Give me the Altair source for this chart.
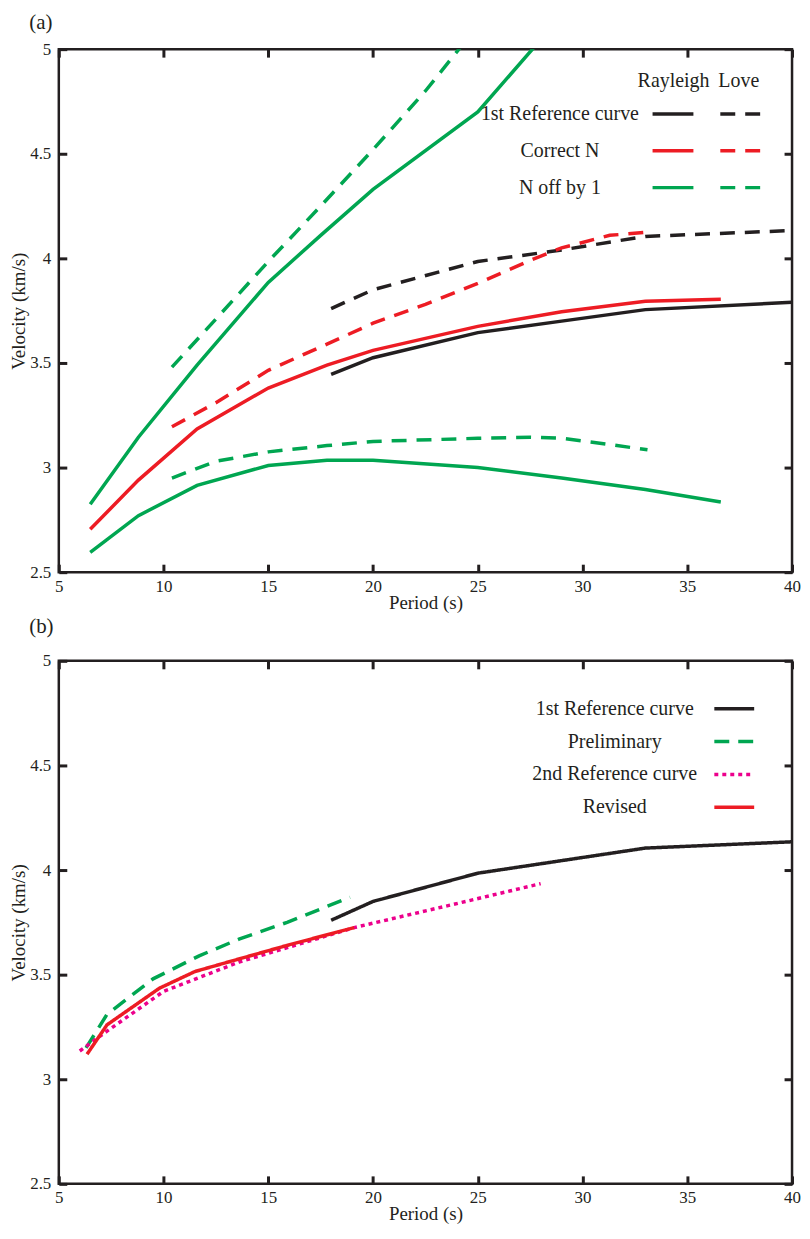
import altair as alt
import pandas as pd

FONT = "Liberation Serif"
INK = "#231f20"
RED = "#ed1c24"
GREEN = "#00a651"
MAGENTA = "#ec008c"

# ---------------- Panel (a) data ----------------
a_series = ["1st Reference curve", "Correct N", "N off by 1"]
a_colors = [INK, RED, GREEN]

ref_rayleigh_T = [18.0, 20.0, 25.0, 29.0, 33.0, 40.0]
ref_rayleigh_V = [3.445, 3.525, 3.645, 3.70, 3.755, 3.79]
ref_love_T = [18.0, 20.0, 25.0, 29.0, 33.0, 40.0]
ref_love_V = [3.76, 3.85, 3.985, 4.04, 4.105, 4.133]

correct_rayleigh_T = [6.5, 8.8, 11.6, 15.0, 17.8, 20.0, 25.0, 29.0, 33.0, 36.6]
correct_rayleigh_V = [2.705, 2.94, 3.185, 3.38, 3.49, 3.56, 3.675, 3.745, 3.795, 3.805]
correct_love_T = [10.4, 12.5, 15.0, 17.8, 20.0, 22.5, 25.0, 27.5, 29.0, 31.3, 33.1]
correct_love_V = [3.195, 3.31, 3.465, 3.59, 3.69, 3.78, 3.88, 3.99, 4.05, 4.11, 4.125]

off_rayleigh_upper_T = [6.5, 8.8, 11.6, 15.0, 17.5, 20.0, 25.0, 29.0]
off_rayleigh_upper_V = [2.825, 3.145, 3.49, 3.885, 4.11, 4.33, 4.70, 5.16]
off_love_upper_T = [10.4, 12.5, 15.0, 17.5, 20.0, 22.5, 24.1, 25.0]
off_love_upper_V = [3.48, 3.71, 3.985, 4.25, 4.52, 4.80, 5.0, 5.10]

off_rayleigh_lower_T = [6.5, 8.8, 11.6, 15.0, 17.8, 20.0, 25.0, 29.0, 33.0, 36.6]
off_rayleigh_lower_V = [2.595, 2.77, 2.915, 3.01, 3.035, 3.035, 3.0, 2.95, 2.895, 2.835]
off_love_lower_T = [10.4, 12.5, 15.0, 17.8, 20.0, 25.0, 27.5, 29.0, 31.3, 33.1]
off_love_lower_V = [2.95, 3.03, 3.075, 3.105, 3.125, 3.14, 3.145, 3.14, 3.11, 3.085]

# ---------------- Panel (b) data ----------------
b_series = ["1st Reference curve", "Preliminary", "2nd Reference curve", "Revised"]
b_colors = [INK, GREEN, MAGENTA, RED]
b_dashes = [[1, 0], [15, 9], [4, 4], [1, 0]]

ref1_T = [18.0, 20.0, 25.0, 29.0, 33.0, 40.0]
ref1_V = [3.76, 3.85, 3.985, 4.045, 4.105, 4.135]
prelim_T = [6.3, 7.3, 9.5, 11.7, 13.6, 15.9, 18.9]
prelim_V = [3.15, 3.31, 3.48, 3.59, 3.67, 3.75, 3.87]
ref2_T = [6.0, 7.3, 10.0, 13.6, 19.1, 23.8, 28.0]
ref2_V = [3.135, 3.23, 3.42, 3.56, 3.725, 3.835, 3.935]
revised_T = [6.35, 7.3, 9.8, 11.5, 13.6, 15.9, 19.1]
revised_V = [3.12, 3.26, 3.435, 3.515, 3.575, 3.64, 3.725]

x_ticks = [5, 10, 15, 20, 25, 30, 35, 40]
y_ticks = [2.5, 3, 3.5, 4, 4.5, 5]


def rows(series, prefix, branch, T, V):
    return [dict(series=series, key=prefix + series, branch=branch, T=t, V=v)
            for t, v in zip(T, V)]


df_a_rayleigh = pd.DataFrame(
    rows(a_series[0], "R ", "r0", ref_rayleigh_T, ref_rayleigh_V)
    + rows(a_series[1], "R ", "r1", correct_rayleigh_T, correct_rayleigh_V)
    + rows(a_series[2], "R ", "r2", off_rayleigh_upper_T, off_rayleigh_upper_V)
    + rows(a_series[2], "R ", "r3", off_rayleigh_lower_T, off_rayleigh_lower_V)
)
df_a_love = pd.DataFrame(
    rows(a_series[0], "L ", "l0", ref_love_T, ref_love_V)
    + rows(a_series[1], "L ", "l1", correct_love_T, correct_love_V)
    + rows(a_series[2], "L ", "l2", off_love_upper_T, off_love_upper_V)
    + rows(a_series[2], "L ", "l3", off_love_lower_T, off_love_lower_V)
)
df_b1 = pd.DataFrame(
    rows(b_series[0], "B ", "b0", ref1_T, ref1_V) + rows(b_series[1], "B ", "b1", prelim_T, prelim_V)
)
df_b2 = pd.DataFrame(
    rows(b_series[2], "B ", "b2", ref2_T, ref2_V) + rows(b_series[3], "B ", "b3", revised_T, revised_V)
)

TICK = 8
W, H = 736, 525
xscale = alt.Scale(domain=[5, 40], nice=False, zero=False)
yscale = alt.Scale(domain=[2.5, 5], nice=False, zero=False)

# inward ticks: negative tick length given as an expression
common_axis = dict(
    domain=False, grid=False, ticks=True, tickSize={"expr": str(-TICK)}, tickWidth=3,
    tickColor=INK, tickOpacity=1, labelColor=INK, titleColor=INK, labelFont=FONT,
    titleFont=FONT, labelFontSize=17, titleFontSize=19, titleFontWeight="normal",
    labelFlush=False, zindex=1, minExtent=0,
)
x_axis_main = alt.Axis(orient="bottom", title="Period (s)", values=x_ticks, format="d",
                       labelPadding=6 + TICK, titlePadding=-1, **common_axis)
y_axis_main = alt.Axis(orient="left", title="Velocity (km/s)", values=y_ticks, format="~g",
                       labelPadding=8 + TICK, titlePadding=1.5, **common_axis)
x_axis_top = alt.Axis(orient="top", title=None, values=x_ticks, labels=False, **common_axis)
y_axis_right = alt.Axis(orient="right", title=None, values=y_ticks, labels=False, **common_axis)

legend_common = dict(
    orient="none", clipHeight=20,
    labelFont=FONT, labelFontSize=20, labelColor=INK, labelLimit=400,
    titleFont=FONT, titleFontSize=20, titleFontWeight="normal", titleColor=INK,
)
sym_common = dict(symbolType="stroke", symbolStrokeWidth=3.5, labelExpr="''", labelOffset=0)
lab_common = dict(symbolOpacity=0, symbolSize=16, symbolStrokeWidth=0, labelAlign="center",
                  labelOffset=0)

# ---------------- Panel (a) chart ----------------
rayleigh = alt.Chart(df_a_rayleigh).mark_line(strokeWidth=3.5, clip=True).encode(
    x=alt.X("T:Q", scale=xscale, axis=x_axis_main),
    y=alt.Y("V:Q", scale=yscale, axis=y_axis_main),
    color=alt.Color("key:N", scale=alt.Scale(domain=["R " + s for s in a_series], range=a_colors),
                    legend=alt.Legend(title="Rayleigh", legendX=581, legendY=22,
                                      symbolSize=1681, symbolOffset=13, rowPadding=17,
                                      titlePadding=13, **sym_common, **legend_common)),
    opacity=alt.Opacity("series:N", scale=alt.Scale(domain=a_series, range=[1, 1, 1]),
                        legend=alt.Legend(title="\u00a0", legendX=483, legendY=22,
                                          rowPadding=17, titlePadding=13,
                                          **lab_common, **legend_common)),
    detail="branch:N",
)
love = alt.Chart(df_a_love).mark_line(strokeWidth=3.5, clip=True, strokeDash=[15, 10]).encode(
    x=alt.X("T:Q", scale=xscale, axis=x_axis_top),
    y=alt.Y("V:Q", scale=yscale, axis=y_axis_right),
    stroke=alt.Stroke("key:N", scale=alt.Scale(domain=["L " + s for s in a_series], range=a_colors),
                      legend=alt.Legend(title="Love", legendX=662, legendY=22,
                                        symbolSize=1681, rowPadding=17, titlePadding=13,
                                        symbolDash=[15, 10], **sym_common, **legend_common)),
    detail="branch:N",
)
panel_a = alt.layer(rayleigh, love).resolve_axis(x="independent", y="independent").properties(
    width=W, height=H,
    title=alt.TitleParams("(a)", anchor="start", frame="bounds", font=FONT, fontSize=21,
                          fontWeight="normal", color=INK, offset=7, dx=20),
)

# ---------------- Panel (b) chart ----------------
b_sym_legend = alt.Legend(title=None, legendX=656, legendY=38, symbolSize=1600, rowPadding=13,
                          **sym_common, **legend_common)
b_color = alt.Color("key:N", scale=alt.Scale(domain=["B " + s for s in b_series], range=b_colors),
                    legend=b_sym_legend)
b_dash = alt.StrokeDash("key:N", scale=alt.Scale(domain=["B " + s for s in b_series], range=b_dashes),
                        legend=b_sym_legend)
b_labels = alt.Opacity("series:N", scale=alt.Scale(domain=b_series, range=[1, 1, 1, 1]),
                       legend=alt.Legend(title=None, legendX=538, legendY=38, rowPadding=13,
                                         **lab_common, **legend_common))
b1 = alt.Chart(df_b1).mark_line(strokeWidth=3.5, clip=True).encode(
    x=alt.X("T:Q", scale=xscale, axis=x_axis_main),
    y=alt.Y("V:Q", scale=yscale, axis=y_axis_main),
    color=b_color, strokeDash=b_dash, opacity=b_labels, detail="branch:N",
)
b2 = alt.Chart(df_b2).mark_line(strokeWidth=3.5, clip=True).encode(
    x=alt.X("T:Q", scale=xscale, axis=x_axis_top),
    y=alt.Y("V:Q", scale=yscale, axis=y_axis_right),
    color=b_color, strokeDash=b_dash, opacity=b_labels, detail="branch:N",
)
panel_b = alt.layer(b1, b2).resolve_axis(x="independent", y="independent").properties(
    width=W, height=H,
    title=alt.TitleParams("(b)", anchor="start", frame="bounds", font=FONT, fontSize=21,
                          fontWeight="normal", color=INK, offset=15, dx=20),
)

chart = alt.vconcat(panel_a, panel_b, spacing=0).resolve_scale(
    color="independent", stroke="independent", strokeDash="independent", opacity="independent"
).resolve_legend(
    color="independent", stroke="independent", strokeDash="independent", opacity="independent"
).properties(
    padding={"left": 0, "top": 0, "right": 0, "bottom": 0}
).configure_view(stroke=INK, strokeWidth=2.5)

chart.save("out.html", embed_options={"renderer": "svg", "actions": False})
